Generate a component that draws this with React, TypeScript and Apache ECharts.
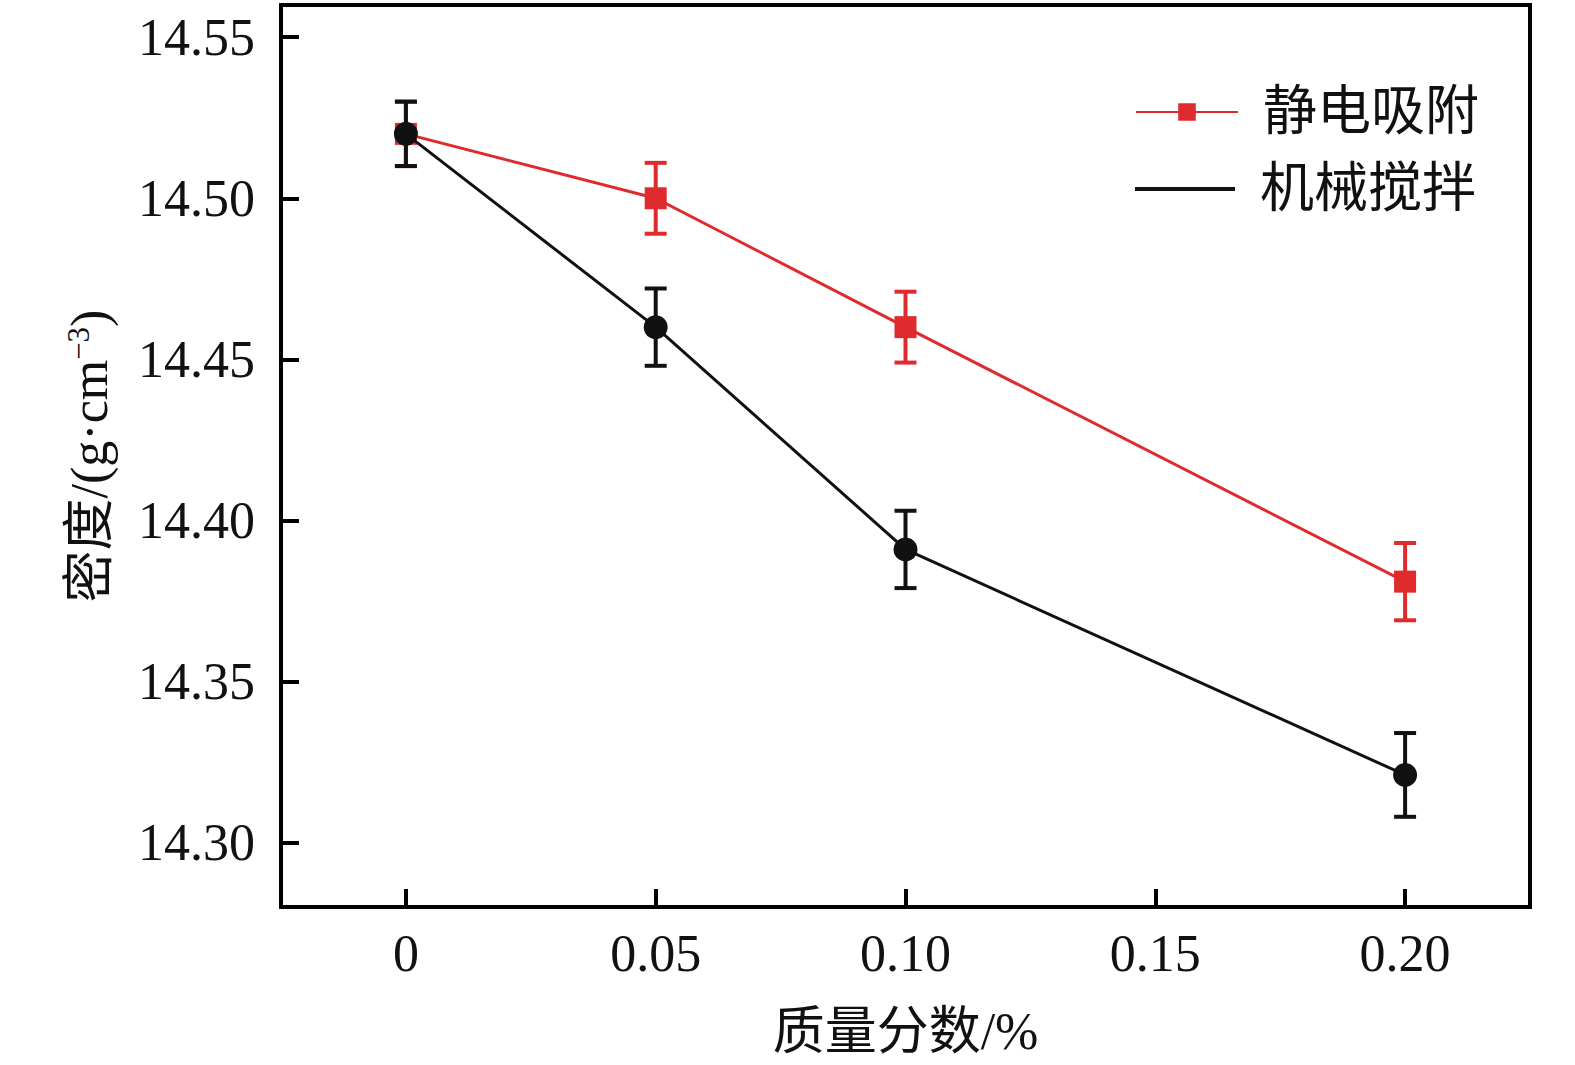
import React, { useEffect, useRef } from "react";
import * as echarts from "echarts";

const xValues = [0, 0.05, 0.1, 0.2];
const electrostatic = [14.52, 14.5, 14.46, 14.381];
const electrostaticErr = [0.01, 0.011, 0.011, 0.012];
const mechanical = [14.52, 14.46, 14.391, 14.321];
const mechanicalErr = [0.01, 0.012, 0.012, 0.013];
const xTicks = [0, 0.05, 0.1, 0.15, 0.2];
const yTicks = [14.3, 14.35, 14.4, 14.45, 14.5, 14.55];
const seriesNames = ["静电吸附", "机械搅拌"];

const RED = "#df2a2e";
const BLACK = "#111111";
const SERIF = "'Liberation Serif', 'Times New Roman', 'Noto Sans CJK SC', serif";

function errorSeries(vals: number[], errs: number[], color: string) {
  return {
    type: "custom",
    silent: true,
    data: xValues.map((x, i) => [x, vals[i] - errs[i], vals[i] + errs[i]]),
    renderItem: (params: any, api: any) => {
      const x = api.value(0);
      const lo = api.coord([x, api.value(1)]);
      const hi = api.coord([x, api.value(2)]);
      const half = 11;
      const style = { stroke: color, lineWidth: 4 };
      return {
        type: "group",
        children: [
          { type: "line", shape: { x1: lo[0], y1: lo[1], x2: hi[0], y2: hi[1] }, style },
          { type: "line", shape: { x1: lo[0] - half, y1: lo[1], x2: lo[0] + half, y2: lo[1] }, style },
          { type: "line", shape: { x1: hi[0] - half, y1: hi[1], x2: hi[0] + half, y2: hi[1] }, style },
        ],
      };
    },
    z: 2,
  };
}

export default function App() {
  const ref = useRef<HTMLDivElement>(null);
  useEffect(() => {
    if (!ref.current) return;
    const chart = echarts.init(ref.current, null, { renderer: "svg" });
    const legendText = {
      fontFamily: SERIF,
      fontSize: 54,
      color: "#111",
      padding: [0, 0, 0, 20],
    };
    chart.setOption({
      animation: false,
      backgroundColor: "#ffffff",
      grid: {
        left: 281,
        right: 45,
        top: 5,
        bottom: 158,
        show: true,
        borderColor: "#000",
        borderWidth: 4,
        backgroundColor: "transparent",
      },
      legend: [
        {
          data: [seriesNames[0]],
          left: 1130,
          top: 80,
          itemWidth: 102,
          itemHeight: 22,
          textStyle: legendText,
        },
        {
          data: [{ name: seriesNames[1], icon: "rect" }],
          left: 1130,
          top: 157,
          itemWidth: 100,
          itemHeight: 4,
          textStyle: legendText,
        },
      ],
      xAxis: {
        type: "value",
        min: -0.025,
        max: 0.225,
        name: "质量分数/%",
        nameLocation: "middle",
        nameGap: 98,
        nameTextStyle: { fontFamily: SERIF, fontSize: 52, color: "#111" },
        axisLine: { show: true, onZero: false, lineStyle: { color: "#000", width: 4 } },
        axisTick: {
          show: true,
          inside: true,
          length: 18,
          lineStyle: { color: "#000", width: 4 },
          customValues: xTicks,
        },
        axisLabel: {
          customValues: xTicks,
          fontFamily: SERIF,
          fontSize: 52,
          color: "#111",
          margin: 20,
          formatter: (v: number) => (v === 0 ? "0" : v.toFixed(2)),
        },
        splitLine: { show: false },
      },
      yAxis: {
        type: "value",
        min: 14.28,
        max: 14.56,
        name: "密度/(g·cm{sup|−3})",
        nameLocation: "middle",
        nameGap: 165,
        nameTextStyle: {
          fontFamily: SERIF,
          fontSize: 52,
          color: "#111",
          rich: { sup: { fontFamily: SERIF, fontSize: 31, verticalAlign: "top", padding: [0, 0, 22, 0] } },
        },
        axisLine: { show: true, onZero: false, lineStyle: { color: "#000", width: 4 } },
        axisTick: {
          show: true,
          inside: true,
          length: 18,
          lineStyle: { color: "#000", width: 4 },
          customValues: yTicks,
        },
        axisLabel: {
          customValues: yTicks,
          fontFamily: SERIF,
          fontSize: 52,
          color: "#111",
          margin: 26,
          formatter: (v: number) => v.toFixed(2),
        },
        splitLine: { show: false },
      },
      series: [
        errorSeries(electrostatic, electrostaticErr, RED),
        {
          name: seriesNames[0],
          type: "line",
          data: xValues.map((x, i) => [x, electrostatic[i]]),
          symbol: "rect",
          symbolSize: 22,
          lineStyle: { color: RED, width: 3 },
          itemStyle: { color: RED },
          z: 3,
        },
        errorSeries(mechanical, mechanicalErr, BLACK),
        {
          name: seriesNames[1],
          type: "line",
          data: xValues.map((x, i) => [x, mechanical[i]]),
          symbol: "circle",
          symbolSize: 24,
          lineStyle: { color: BLACK, width: 3 },
          itemStyle: { color: BLACK },
          z: 4,
        },
      ],
    });
    return () => chart.dispose();
  }, []);
  return (
    <div
      ref={ref}
      style={{ position: "fixed", left: 0, top: 0, width: 1575, height: 1065 }}
    />
  );
}
